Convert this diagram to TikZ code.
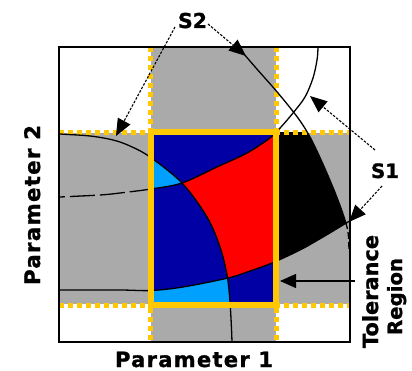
\documentclass[tikz,border=0pt]{standalone}
\usepackage{fontspec}
\setmainfont{DejaVu Sans}
\usetikzlibrary{arrows.meta}
\definecolor{dblue}{RGB}{0,0,165}
\definecolor{lblue}{RGB}{0,160,255}
\definecolor{bandgray}{RGB}{170,170,170}
\definecolor{tyellow}{RGB}{255,200,0}
\newcommand\CurveA{plot[smooth,tension=0.55] coordinates {(50,133) (60,134) (90,136) (113,140) (130,146) (150,157) (182,183) (207,217) (220,247) (227,275) (230,302) (232,342) (232,370)}}
\newcommand\CurveB{plot[smooth,tension=0.55] coordinates {(40,290) (60,290) (120,290) (151,290.5) (183,287) (228,278) (250,271) (272,263) (300,250) (323,237) (348,222) (365,212)}}
\newcommand\CurveC{plot[smooth,tension=0.55] coordinates {(40,198) (60,197) (100,195) (120,193) (151,189) (182,183) (217,167) (247,153) (270,138) (281,127) (293,113) (305,97) (313,78) (317,60) (318,47) (318,30)}}
\newcommand\CurveD{plot[smooth,tension=0.55] coordinates {(224,30) (238,47) (256,68) (278,93) (298,118) (310,137) (322,162) (334,190) (343,214) (348,232) (349,252) (349,270)}}
\newcommand\lbl[3]{{\bfseries\addfontfeature{LetterSpace=#2,FakeBold=1.2}\resizebox{#1}{!}{#3}}}
\begin{document}
\begin{tikzpicture}[x=1pt,y=-1pt,
  curve/.style={black, line width=1.3pt},
  ydot/.style={tyellow, line width=5pt, dash pattern=on 5pt off 4pt},
  ptr/.style={black, line width=1.1pt, dash pattern=on 2.5pt off 1.5pt, -{Triangle[length=17pt,width=14pt]}},
  solidptr/.style={black, line width=1.3pt, -{Triangle[length=16pt,width=14pt]}},
  lab/.style={inner sep=0pt, outer sep=0pt}]
\useasboundingbox (0,0) rectangle (412,371);
\fill[white] (0,0) rectangle (412,371);
% bands
\fill[bandgray] (151,47) rectangle (276,342);
\fill[bandgray] (59,133) rectangle (350,304);
% tolerance region fills
\begin{scope}
  \clip (151,133) rectangle (276,304);
  \fill[dblue] (151,133) rectangle (276,304);
  \begin{scope}
    \clip \CurveA -- (0,380) -- (0,133) -- cycle;
    \fill[lblue] \CurveC -- (330,0) -- (0,0) -- (0,198) -- cycle;
    \fill[lblue] \CurveB -- (420,212) -- (420,380) -- (0,380) -- (0,290) -- cycle;
  \end{scope}
  \begin{scope}
    \clip \CurveA -- (420,380) -- (420,0) -- (50,0) -- cycle;
    \clip \CurveC -- (420,0) -- (420,380) -- (0,380) -- (0,198) -- cycle;
    \fill[red] \CurveB -- (420,212) -- (420,0) -- (0,0) -- (0,290) -- cycle;
  \end{scope}
\end{scope}
% black region
\begin{scope}
  \clip (276,133) rectangle (350,304);
  \clip \CurveB -- (420,212) -- (420,0) -- (0,0) -- (0,290) -- cycle;
  \fill[black] \CurveD -- (349,380) -- (0,380) -- (0,0) -- (224,0) -- cycle;
\end{scope}
% dotted extensions
\draw[ydot] (150.5,47) -- (150.5,342);
\draw[ydot] (276,47) -- (276,342);
\draw[ydot] (59,133) -- (350,133);
\draw[ydot] (59,305) -- (350,305);
% curves
\begin{scope}
  \clip (59,47) rectangle (350,342);
  \draw[curve] \CurveA;
  \draw[curve] \CurveB;
  \begin{scope}\clip (151,0) rectangle (420,380); \draw[curve] \CurveC; \end{scope}
  \begin{scope}\clip (0,0) rectangle (151,380); \draw[curve, dash pattern=on 25pt off 5pt] \CurveC; \end{scope}
  \begin{scope}\clip (0,0) rectangle (420,224); \draw[curve] \CurveD; \end{scope}
  \begin{scope}\clip (0,224) rectangle (420,252); \draw[curve, dash pattern=on 7pt off 3pt] \CurveD; \end{scope}
\end{scope}
% tolerance rectangle and frame
\draw[tyellow, line width=6pt] (151,132) rectangle (276,305);
\draw[black, line width=1.5pt] (59,47) rectangle (350,342);
% labels
\node[lab, anchor=base west] (p1) at (115,367) {\lbl{158pt}{6}{Parameter 1}};
\node[lab, anchor=base west, rotate=90] (p2) at (40,285) {\lbl{160pt}{6}{Parameter 2}};
\node[lab, anchor=base west] (s2) at (178,28) {\lbl{29pt}{0}{S2}};
\node[lab, anchor=base west] (s1) at (371,178) {\lbl{28pt}{0}{S1}};
\node[lab, anchor=base west, rotate=90] (tol) at (378,348) {\lbl{113pt}{0}{Tolerance}};
\node[lab, anchor=base west, rotate=90] (reg) at (402,335) {\lbl{77pt}{0}{Region}};
% pointers
\coordinate (s2a) at (175,27);
\coordinate (s2b) at (208,24);
\coordinate (s2ta) at (116,136);
\coordinate (s2tb) at (246,56);
\coordinate (s1a) at (375,150);
\coordinate (s1b) at (382,186);
\coordinate (s1ta) at (310,96);
\coordinate (s1tb) at (349,222);
\coordinate (tra) at (355,281);
\coordinate (trt) at (280,281);
\draw[ptr] (s2a) -- (s2ta);
\draw[ptr] (s2b) -- (s2tb);
\draw[ptr] (s1a) -- (s1ta);
\draw[ptr] (s1b) -- (s1tb);
\draw[solidptr] (tra) -- (trt);
\end{tikzpicture}
\end{document}
